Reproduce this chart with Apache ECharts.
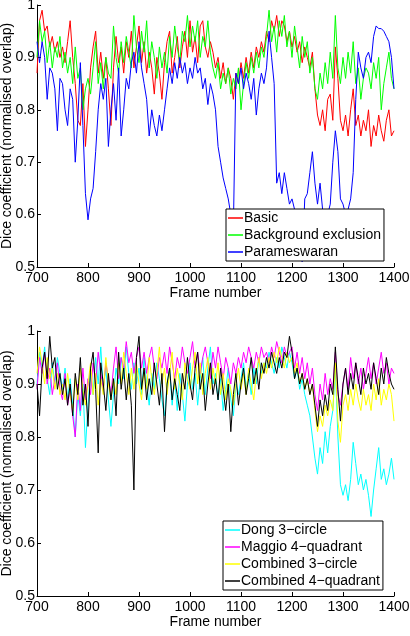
<!DOCTYPE html>
<html>
<head>
<meta charset="utf-8">
<script src="https://cdn.jsdelivr.net/npm/echarts@6/dist/echarts.min.js"></script>
<style>
  html, body { margin: 0; padding: 0; background: #fff; }
  #chart { width: 410px; height: 636px; }
</style>
</head>
<body>
<div id="chart"></div>
<script>
// frame numbers, one reading every 5 frames
const frames = [];
for (let f = 700; f <= 1400; f += 5) frames.push(f);

const yTicks = [0.5, 0.6, 0.7, 0.8, 0.9, 1];

// top panel
const basic = [
  0.87, 0.97, 0.99, 0.95, 0.96, 0.92, 0.94, 0.91, 0.93, 0.90,
  0.92, 0.89, 0.93, 0.97, 0.90, 0.85, 0.78, 0.77, 0.85, 0.73,
  0.80, 0.88, 0.92, 0.95, 0.87, 0.91, 0.86, 0.90, 0.84, 0.77,
  0.88, 0.94, 0.89, 0.92, 0.87, 0.93, 0.90, 0.95, 0.88, 0.92,
  0.96, 0.89, 0.93, 0.87, 0.91, 0.88, 0.83, 0.90, 0.87, 0.82,
  0.89, 0.93, 0.95, 0.87, 0.90, 0.94, 0.88, 0.92, 0.95, 0.90,
  0.97, 0.91, 0.94, 0.89, 0.96, 0.97, 0.92, 0.90, 0.93, 0.91,
  0.88, 0.90, 0.86, 0.89, 0.85, 0.88, 0.86, 0.82, 0.87, 0.85,
  0.89, 0.86, 0.90, 0.87, 0.91, 0.88, 0.92, 0.90, 0.93, 0.91,
  0.95, 0.93, 0.97, 0.95, 0.98, 0.94, 0.97, 0.96, 0.93, 0.95,
  0.92, 0.94, 0.91, 0.93, 0.89, 0.92, 0.90, 0.88, 0.91, 0.84,
  0.79, 0.77, 0.80, 0.76, 0.82, 0.83, 0.78, 0.92, 0.86, 0.78,
  0.76, 0.79, 0.75, 0.80, 0.84, 0.77, 0.79, 0.75, 0.78, 0.76,
  0.80, 0.73, 0.77, 0.75, 0.79, 0.76, 0.74, 0.78, 0.80, 0.75,
  0.76
];
const backgroundExclusion = [
  0.90, 0.97, 0.93, 0.95, 0.89, 0.93, 0.88, 0.92, 0.90, 0.94,
  0.88, 0.91, 0.87, 0.90, 0.85, 0.92, 0.86, 0.88, 0.80, 0.84,
  0.86, 0.83, 0.88, 0.93, 0.85, 0.89, 0.84, 0.90, 0.87, 0.86,
  0.96, 0.90, 0.87, 0.93, 0.89, 0.94, 0.91, 0.88, 0.98, 0.92,
  0.89, 0.95, 0.91, 0.97, 0.88, 0.93, 0.90, 0.86, 0.92, 0.88,
  0.91, 0.87, 0.94, 0.90, 0.96, 0.92, 0.89, 0.95, 0.93, 0.98,
  0.92, 0.96, 0.93, 0.97, 0.90, 0.94, 0.92, 0.97, 0.91, 0.88,
  0.86, 0.89, 0.84, 0.87, 0.85, 0.88, 0.83, 0.86, 0.84, 0.88,
  0.80, 0.85, 0.89, 0.86, 0.90, 0.87, 0.91, 0.88, 0.92, 0.90,
  0.94, 0.99, 0.93, 0.96, 0.91, 0.97, 0.94, 0.98, 0.92, 0.95,
  0.90, 0.96, 0.92, 0.88, 0.94, 0.90, 0.93, 0.87, 0.90, 0.84,
  0.82, 0.87, 0.84, 0.89, 0.85, 0.91, 0.86, 0.98, 0.88, 0.85,
  0.90, 0.86, 0.91, 0.87, 0.93, 0.85, 0.88, 0.82, 0.86, 0.88,
  0.87, 0.84, 0.89, 0.86, 0.90, 0.80, 0.85, 0.88, 0.91, 0.86,
  0.84
];
const parameswaran = [
  0.93, 0.89, 0.93, 0.90, 0.82, 0.88, 0.87, 0.84, 0.76, 0.86,
  0.85, 0.80, 0.77, 0.84, 0.82, 0.70, 0.78, 0.89, 0.77, 0.64,
  0.59, 0.63, 0.65, 0.72, 0.80, 0.85, 0.82, 0.86, 0.73, 0.80,
  0.85, 0.78, 0.88, 0.75, 0.80, 0.86, 0.84, 0.89, 0.91, 0.87,
  0.93, 0.88, 0.85, 0.82, 0.75, 0.80, 0.77, 0.75, 0.79, 0.76,
  0.80, 0.84, 0.88, 0.85, 0.89, 0.86, 0.90, 0.87, 0.89, 0.85,
  0.88, 0.86, 0.90, 0.87, 0.88, 0.84, 0.86, 0.81, 0.85, 0.83,
  0.80, 0.73, 0.70, 0.67, 0.65, 0.63, 0.60, 0.57, 0.87, 0.85,
  0.88, 0.84, 0.87, 0.85, 0.82, 0.86, 0.79, 0.84, 0.87, 0.85,
  0.88, 0.95, 0.90, 0.85, 0.66, 0.68, 0.64, 0.68, 0.65, 0.62,
  0.63, 0.61, 0.56, 0.52, 0.51, 0.63, 0.64, 0.68, 0.72, 0.66,
  0.62, 0.66, 0.61, 0.58, 0.60, 0.62, 0.70, 0.76, 0.72, 0.63,
  0.62, 0.60, 0.61, 0.63, 0.68, 0.82, 0.91, 0.88, 0.86, 0.90,
  0.91, 0.89, 0.94, 0.96, 0.955, 0.955, 0.95, 0.94, 0.93, 0.90,
  0.84
];

// bottom panel
const dong = [
  0.90, 0.96, 0.93, 0.97, 0.91, 0.88, 0.94, 0.90, 0.95, 0.92,
  0.89, 0.93, 0.87, 0.91, 0.86, 0.80, 0.88, 0.84, 0.90, 0.78,
  0.86, 0.92, 0.88, 0.95, 0.90, 0.97, 0.89, 0.93, 0.87, 0.82,
  0.88, 0.93, 0.90, 0.95, 0.91, 0.97, 0.92, 0.89, 0.94, 0.90,
  0.93, 0.88, 0.95, 0.90, 0.86, 0.92, 0.89, 0.94, 0.91, 0.87,
  0.84, 0.90, 0.93, 0.86, 0.91, 0.85, 0.92, 0.88, 0.83, 0.90,
  0.94, 0.89, 0.92, 0.86, 0.91, 0.95, 0.88, 0.93, 0.97, 0.90,
  0.92, 0.87, 0.91, 0.85, 0.89, 0.93, 0.87, 0.84, 0.90, 0.88,
  0.91, 0.94, 0.89, 0.92, 0.88, 0.93, 0.90, 0.95, 0.92, 0.94,
  0.93, 0.96, 0.94, 0.92, 0.95, 0.93, 0.97, 0.95, 0.93, 0.96,
  0.94, 0.91, 0.93, 0.89, 0.91, 0.88, 0.86, 0.84, 0.80, 0.76,
  0.73, 0.78, 0.75, 0.81, 0.77, 0.82, 0.85, 0.93, 0.80, 0.71,
  0.69, 0.71, 0.68, 0.72, 0.79, 0.75, 0.71, 0.73, 0.70, 0.72,
  0.69, 0.65, 0.70, 0.74, 0.78, 0.72, 0.74, 0.71, 0.73, 0.76,
  0.72
];
const maggio = [
  0.89, 0.95, 0.92, 0.96, 0.90, 0.93, 0.88, 0.91, 0.94, 0.89,
  0.87, 0.92, 0.86, 0.89, 0.84, 0.80, 0.90, 0.85, 0.93, 0.87,
  0.91, 0.88, 0.94, 0.90, 0.96, 0.92, 0.89, 0.94, 0.91, 0.88,
  0.93, 0.97, 0.91, 0.95, 0.93, 0.98, 0.94, 0.96, 0.92, 0.95,
  0.97, 0.93, 0.96, 0.92, 0.95, 0.97, 0.93, 0.91, 0.95, 0.93,
  0.96, 0.92, 0.97, 0.94, 0.91, 0.95, 0.93, 0.97, 0.94, 0.92,
  0.95, 0.98, 0.93, 0.96, 0.92, 0.95, 0.97, 0.94, 0.91, 0.96,
  0.93, 0.97, 0.94, 0.91, 0.95, 0.93, 0.90, 0.94, 0.92, 0.95,
  0.93, 0.96, 0.94, 0.97, 0.95, 0.93, 0.96, 0.94, 0.97, 0.95,
  0.96, 0.94, 0.97, 0.95, 0.98, 0.96, 0.94, 0.97, 0.95, 0.96,
  0.97, 0.93, 0.96, 0.92, 0.95, 0.91, 0.94, 0.90, 0.93, 0.88,
  0.85, 0.90, 0.87, 0.92, 0.88, 0.91, 0.89, 0.96, 0.88, 0.86,
  0.90, 0.93, 0.89, 0.95, 0.91, 0.94, 0.90, 0.93, 0.89, 0.92,
  0.95, 0.91, 0.94, 0.90, 0.93, 0.96, 0.92, 0.94, 0.90, 0.93,
  0.92
];
const combined3 = [
  0.92, 0.97, 0.94, 0.90, 0.95, 0.91, 0.93, 0.89, 0.92, 0.88,
  0.90, 0.87, 0.92, 0.88, 0.85, 0.91, 0.87, 0.93, 0.89, 0.86,
  0.90, 0.94, 0.88, 0.92, 0.86, 0.91, 0.88, 0.95, 0.90, 0.87,
  0.91, 0.88, 0.94, 0.90, 0.96, 0.92, 0.88, 0.93, 0.89, 0.94,
  0.90, 0.87, 0.93, 0.89, 0.95, 0.91, 0.88, 0.92, 0.97, 0.90,
  0.93, 0.88, 0.92, 0.96, 0.89, 0.93, 0.90, 0.87, 0.94, 0.91,
  0.89, 0.93, 0.96, 0.90, 0.94, 0.88, 0.92, 0.95, 0.89, 0.93,
  0.90, 0.94, 0.88, 0.92, 0.87, 0.91, 0.89, 0.86, 0.90, 0.93,
  0.89, 0.92, 0.88, 0.93, 0.90, 0.87, 0.92, 0.95, 0.91, 0.94,
  0.92, 0.95, 0.93, 0.96, 0.94, 0.97, 0.95, 0.93, 0.96, 0.94,
  0.95, 0.92, 0.94, 0.90, 0.92, 0.89, 0.91, 0.88, 0.90, 0.85,
  0.81, 0.84, 0.82, 0.86, 0.84, 0.87, 0.85, 0.94, 0.83, 0.79,
  0.86, 0.88, 0.85, 0.89, 0.86, 0.90, 0.87, 0.85, 0.89, 0.86,
  0.88, 0.85, 0.90, 0.87, 0.91, 0.86, 0.89, 0.87, 0.90, 0.88,
  0.83
];
const combined4 = [
  0.90, 0.84, 0.93, 0.96, 0.91, 0.99, 0.93, 0.95, 0.89, 0.92,
  0.88, 0.91, 0.86, 0.90, 0.84, 0.92, 0.88, 0.95, 0.86, 0.90,
  0.82, 0.93, 0.96, 0.89, 0.77, 0.94, 0.90, 0.85, 0.92, 0.87,
  0.91, 0.84, 0.96, 0.89, 0.93, 0.87, 0.92, 0.86, 0.70, 0.95,
  0.99, 0.89, 0.93, 0.87, 0.91, 0.88, 0.94, 0.90, 0.86, 0.92,
  0.81, 0.90, 0.93, 0.87, 0.91, 0.88, 0.85, 0.92, 0.89, 0.95,
  0.90, 0.87, 0.93, 0.96, 0.89, 0.92, 0.85, 0.90, 0.94, 0.88,
  0.91, 0.87, 0.93, 0.89, 0.85, 0.90, 0.81, 0.88, 0.92, 0.86,
  0.90, 0.93, 0.88, 0.91, 0.95, 0.90, 0.93, 0.89, 0.94, 0.92,
  0.95, 0.93, 0.96, 0.94, 0.92, 0.95, 0.93, 0.96, 0.95, 0.99,
  0.96, 0.91, 0.93, 0.90, 0.92, 0.89, 0.91, 0.88, 0.90, 0.86,
  0.82, 0.87, 0.84, 0.88, 0.85, 0.90, 0.88, 0.97, 0.89, 0.83,
  0.90, 0.93, 0.88, 0.92, 0.89, 0.94, 0.91, 0.88, 0.93, 0.90,
  0.92, 0.89, 0.94, 0.91, 0.88, 0.93, 0.90, 0.95, 0.92, 0.90,
  0.89
];

const font = "'Liberation Sans', Arial, sans-serif";
const chart = echarts.init(document.getElementById('chart'));

function pairs(vals) {
  return frames.map((f, i) => [f, vals[i]]);
}

function xAxisFor(gridIndex) {
  return {
    type: 'value', gridIndex: gridIndex,
    min: 700, max: 1400, interval: 100,
    name: 'Frame number', nameLocation: 'middle', nameGap: 17,
    nameTextStyle: { color: '#000', fontSize: 14, fontFamily: font },
    axisLine: { lineStyle: { color: '#000', width: 1 } },
    axisTick: { inside: true, length: 4, lineStyle: { color: '#000' } },
    axisLabel: {
      color: '#000', fontSize: 14, fontFamily: font, margin: 4,
      formatter: v => String(v)
    },
    splitLine: { show: false }
  };
}

function yAxisFor(gridIndex) {
  return {
    type: 'value', gridIndex: gridIndex,
    min: yTicks[0], max: yTicks[yTicks.length - 1], interval: 0.1,
    name: 'Dice coefficient (normalised overlap)', nameLocation: 'middle',
    nameGap: 23, nameMoveOverlap: false,
    nameTextStyle: { color: '#000', fontSize: 14, fontFamily: font },
    axisLine: { show: true, lineStyle: { color: '#000', width: 1 } },
    axisTick: { show: true, inside: true, length: 4, lineStyle: { color: '#000' } },
    axisLabel: {
      color: '#000', fontSize: 14, fontFamily: font, margin: 2,
      formatter: v => (Math.abs(v - 1) < 1e-9 ? '1' : v.toFixed(1))
    },
    splitLine: { show: false }
  };
}

function line(name, vals, color, xi) {
  return {
    name: name, type: 'line', xAxisIndex: xi, yAxisIndex: xi,
    data: pairs(vals), symbol: 'none', silent: true,
    lineStyle: { color: color, width: 1 }, itemStyle: { color: color }
  };
}

const legendBase = {
  orient: 'vertical', itemGap: 3, itemWidth: 15, itemHeight: 1.5,
  icon: 'rect',
  backgroundColor: '#fff', borderColor: '#000', borderWidth: 1,
  padding: [2, 3, 2, 2], borderRadius: 0,
  textStyle: { color: '#000', fontSize: 14, lineHeight: 14, fontFamily: font, padding: [0, 0, 0, -4] }
};

chart.setOption({
  animation: false,
  backgroundColor: '#fff',
  grid: [
    { left: 37, top: 5, width: 357, height: 262, outerBoundsMode: 'none' },
    { left: 37, top: 331, width: 357, height: 265, outerBoundsMode: 'none' }
  ],
  xAxis: [xAxisFor(0), xAxisFor(1)],
  yAxis: [yAxisFor(0), yAxisFor(1)],
  legend: [
    Object.assign({}, legendBase, {
      left: 226, top: 209,
      data: ['Basic', 'Background exclusion', 'Parameswaran']
    }),
    Object.assign({}, legendBase, {
      left: 223, top: 521,
      data: ['Dong 3−circle', 'Maggio 4−quadrant', 'Combined 3−circle', 'Combined 4−quadrant']
    })
  ],
  series: [
    line('Basic', basic, '#ff0000', 0),
    line('Background exclusion', backgroundExclusion, '#00ff00', 0),
    line('Parameswaran', parameswaran, '#0000ff', 0),
    line('Dong 3−circle', dong, '#00ffff', 1),
    line('Maggio 4−quadrant', maggio, '#ff00ff', 1),
    line('Combined 3−circle', combined3, '#ffff00', 1),
    line('Combined 4−quadrant', combined4, '#000000', 1)
  ]
});
</script>
</body>
</html>
